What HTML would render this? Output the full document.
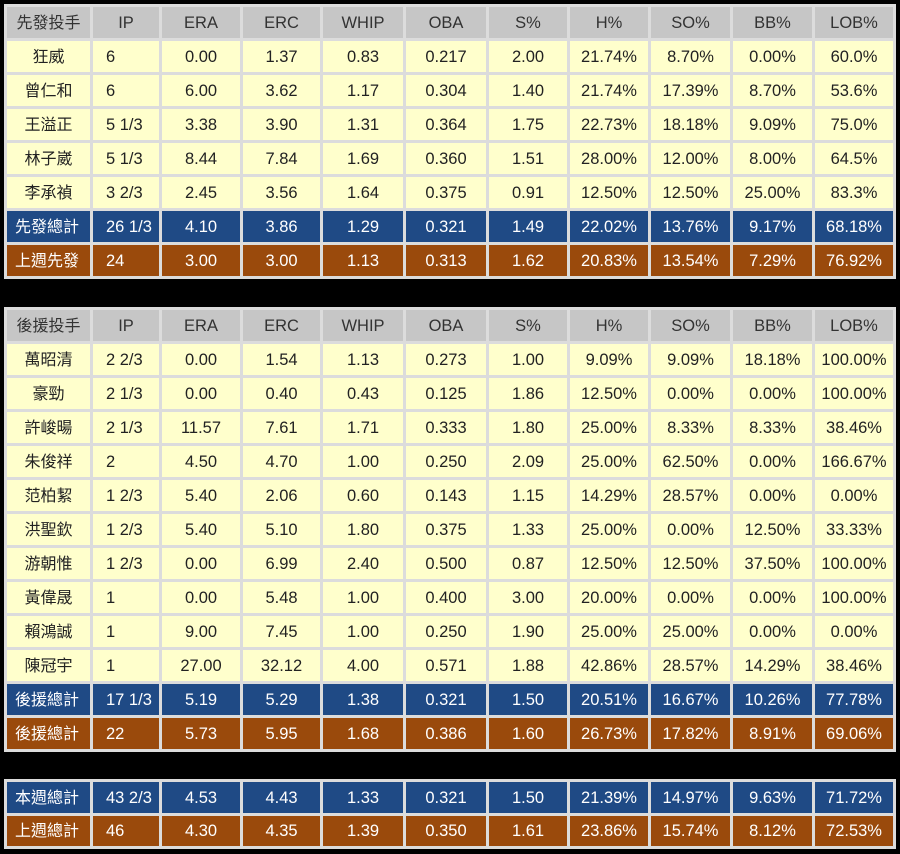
<!DOCTYPE html>
<html><head><meta charset="utf-8"><style>
body{margin:0;background:#000;width:900px;height:854px;position:relative;overflow:hidden;font-family:"Liberation Sans","Noto Sans CJK TC",sans-serif;font-size:16.5px}
table{position:absolute;left:4px;width:892px;border-collapse:collapse;table-layout:fixed}
td{border:3px solid #dcdcdc;text-align:center;padding:0;color:#222;background:#ffffcc;white-space:nowrap;line-height:18px;vertical-align:middle}
td:first-child{font-family:"Noto Sans CJK TC",sans-serif;font-size:16px}
td:first-child span{position:relative;top:-2px}
td:nth-child(2){text-align:left;padding-left:13px}
tr.h td{background:#c6c6c6;color:#333}
tr.h td:nth-child(2){text-align:center;padding-left:0}
tr.b td{background:#1f4a85;color:#fff}
tr.o td{background:#9a4a0c;color:#fff}
tr.b td:first-child,tr.o td:first-child{text-align:left;padding-left:8px}
</style></head><body>
<table style="top:4px"><colgroup><col style="width:86px"><col style="width:69px"><col style="width:81px"><col style="width:80px"><col style="width:83px"><col style="width:83px"><col style="width:81px"><col style="width:81px"><col style="width:82px"><col style="width:82px"><col></colgroup>
<tr class="h" style="height:34px"><td><span>先發投手</span></td><td>IP</td><td>ERA</td><td>ERC</td><td>WHIP</td><td>OBA</td><td>S%</td><td>H%</td><td>SO%</td><td>BB%</td><td>LOB%</td></tr>
<tr style="height:34px"><td><span>狂威</span></td><td>6</td><td>0.00</td><td>1.37</td><td>0.83</td><td>0.217</td><td>2.00</td><td>21.74%</td><td>8.70%</td><td>0.00%</td><td>60.0%</td></tr>
<tr style="height:34px"><td><span>曾仁和</span></td><td>6</td><td>6.00</td><td>3.62</td><td>1.17</td><td>0.304</td><td>1.40</td><td>21.74%</td><td>17.39%</td><td>8.70%</td><td>53.6%</td></tr>
<tr style="height:34px"><td><span>王溢正</span></td><td>5 1/3</td><td>3.38</td><td>3.90</td><td>1.31</td><td>0.364</td><td>1.75</td><td>22.73%</td><td>18.18%</td><td>9.09%</td><td>75.0%</td></tr>
<tr style="height:34px"><td><span>林子崴</span></td><td>5 1/3</td><td>8.44</td><td>7.84</td><td>1.69</td><td>0.360</td><td>1.51</td><td>28.00%</td><td>12.00%</td><td>8.00%</td><td>64.5%</td></tr>
<tr style="height:34px"><td><span>李承禎</span></td><td>3 2/3</td><td>2.45</td><td>3.56</td><td>1.64</td><td>0.375</td><td>0.91</td><td>12.50%</td><td>12.50%</td><td>25.00%</td><td>83.3%</td></tr>
<tr class="b" style="height:34px"><td><span>先發總計</span></td><td>26 1/3</td><td>4.10</td><td>3.86</td><td>1.29</td><td>0.321</td><td>1.49</td><td>22.02%</td><td>13.76%</td><td>9.17%</td><td>68.18%</td></tr>
<tr class="o" style="height:34px"><td><span>上週先發</span></td><td>24</td><td>3.00</td><td>3.00</td><td>1.13</td><td>0.313</td><td>1.62</td><td>20.83%</td><td>13.54%</td><td>7.29%</td><td>76.92%</td></tr>
</table>
<table style="top:307px"><colgroup><col style="width:86px"><col style="width:69px"><col style="width:81px"><col style="width:80px"><col style="width:83px"><col style="width:83px"><col style="width:81px"><col style="width:81px"><col style="width:82px"><col style="width:82px"><col></colgroup>
<tr class="h" style="height:34px"><td><span>後援投手</span></td><td>IP</td><td>ERA</td><td>ERC</td><td>WHIP</td><td>OBA</td><td>S%</td><td>H%</td><td>SO%</td><td>BB%</td><td>LOB%</td></tr>
<tr style="height:34px"><td><span>萬昭清</span></td><td>2 2/3</td><td>0.00</td><td>1.54</td><td>1.13</td><td>0.273</td><td>1.00</td><td>9.09%</td><td>9.09%</td><td>18.18%</td><td>100.00%</td></tr>
<tr style="height:34px"><td><span>豪勁</span></td><td>2 1/3</td><td>0.00</td><td>0.40</td><td>0.43</td><td>0.125</td><td>1.86</td><td>12.50%</td><td>0.00%</td><td>0.00%</td><td>100.00%</td></tr>
<tr style="height:34px"><td><span>許峻暘</span></td><td>2 1/3</td><td>11.57</td><td>7.61</td><td>1.71</td><td>0.333</td><td>1.80</td><td>25.00%</td><td>8.33%</td><td>8.33%</td><td>38.46%</td></tr>
<tr style="height:34px"><td><span>朱俊祥</span></td><td>2</td><td>4.50</td><td>4.70</td><td>1.00</td><td>0.250</td><td>2.09</td><td>25.00%</td><td>62.50%</td><td>0.00%</td><td>166.67%</td></tr>
<tr style="height:34px"><td><span>范柏絜</span></td><td>1 2/3</td><td>5.40</td><td>2.06</td><td>0.60</td><td>0.143</td><td>1.15</td><td>14.29%</td><td>28.57%</td><td>0.00%</td><td>0.00%</td></tr>
<tr style="height:34px"><td><span>洪聖欽</span></td><td>1 2/3</td><td>5.40</td><td>5.10</td><td>1.80</td><td>0.375</td><td>1.33</td><td>25.00%</td><td>0.00%</td><td>12.50%</td><td>33.33%</td></tr>
<tr style="height:34px"><td><span>游朝惟</span></td><td>1 2/3</td><td>0.00</td><td>6.99</td><td>2.40</td><td>0.500</td><td>0.87</td><td>12.50%</td><td>12.50%</td><td>37.50%</td><td>100.00%</td></tr>
<tr style="height:34px"><td><span>黃偉晟</span></td><td>1</td><td>0.00</td><td>5.48</td><td>1.00</td><td>0.400</td><td>3.00</td><td>20.00%</td><td>0.00%</td><td>0.00%</td><td>100.00%</td></tr>
<tr style="height:34px"><td><span>賴鴻誠</span></td><td>1</td><td>9.00</td><td>7.45</td><td>1.00</td><td>0.250</td><td>1.90</td><td>25.00%</td><td>25.00%</td><td>0.00%</td><td>0.00%</td></tr>
<tr style="height:34px"><td><span>陳冠宇</span></td><td>1</td><td>27.00</td><td>32.12</td><td>4.00</td><td>0.571</td><td>1.88</td><td>42.86%</td><td>28.57%</td><td>14.29%</td><td>38.46%</td></tr>
<tr class="b" style="height:34px"><td><span>後援總計</span></td><td>17 1/3</td><td>5.19</td><td>5.29</td><td>1.38</td><td>0.321</td><td>1.50</td><td>20.51%</td><td>16.67%</td><td>10.26%</td><td>77.78%</td></tr>
<tr class="o" style="height:34px"><td><span>後援總計</span></td><td>22</td><td>5.73</td><td>5.95</td><td>1.68</td><td>0.386</td><td>1.60</td><td>26.73%</td><td>17.82%</td><td>8.91%</td><td>69.06%</td></tr>
</table>
<table style="top:779px"><colgroup><col style="width:86px"><col style="width:69px"><col style="width:81px"><col style="width:80px"><col style="width:83px"><col style="width:83px"><col style="width:81px"><col style="width:81px"><col style="width:82px"><col style="width:82px"><col></colgroup>
<tr class="b" style="height:34px"><td><span>本週總計</span></td><td>43 2/3</td><td>4.53</td><td>4.43</td><td>1.33</td><td>0.321</td><td>1.50</td><td>21.39%</td><td>14.97%</td><td>9.63%</td><td>71.72%</td></tr>
<tr class="o" style="height:33px"><td><span>上週總計</span></td><td>46</td><td>4.30</td><td>4.35</td><td>1.39</td><td>0.350</td><td>1.61</td><td>23.86%</td><td>15.74%</td><td>8.12%</td><td>72.53%</td></tr>
</table>
</body></html>
